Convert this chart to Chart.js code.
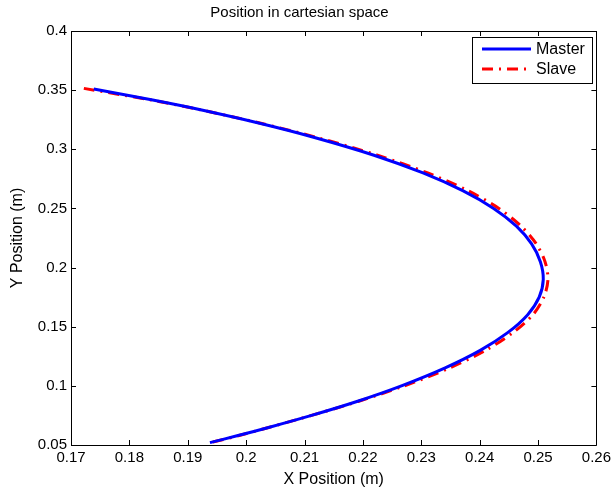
<!DOCTYPE html>
<html>
<head>
<meta charset="utf-8">
<script src="https://cdn.jsdelivr.net/npm/chart.js@4"></script>
<style>
  html, body { margin: 0; padding: 0; background: #fff; }
</style>
</head>
<body>
<canvas id="myChart" width="615" height="490"></canvas>
<script>
// data
const masterY = [0.052, 0.058, 0.065, 0.075, 0.087, 0.100, 0.115, 0.130, 0.145, 0.160, 0.175, 0.190,
                 0.205, 0.220, 0.235, 0.250, 0.265, 0.280, 0.295, 0.310, 0.322, 0.334, 0.3416, 0.351];
const masterX = [0.1938, 0.1986, 0.2040, 0.2112, 0.2191, 0.2266, 0.2340, 0.2401, 0.2448, 0.2482, 0.2502, 0.2509,
                 0.2504, 0.2489, 0.2463, 0.2424, 0.2371, 0.2303, 0.2219, 0.2117, 0.2023, 0.1916, 0.1840, 0.1739];
const slaveY = [0.0525, 0.058, 0.065, 0.075, 0.087, 0.100, 0.115, 0.130, 0.145, 0.160, 0.175, 0.190,
                0.205, 0.220, 0.235, 0.250, 0.265, 0.280, 0.295, 0.310, 0.322, 0.334, 0.3416, 0.3515];
const slaveX = [0.1943, 0.1988, 0.2040, 0.2112, 0.2193, 0.2271, 0.2348, 0.2410, 0.2457, 0.2491, 0.2510, 0.2517,
                0.2512, 0.2497, 0.2471, 0.2433, 0.2380, 0.2311, 0.2225, 0.2121, 0.2025, 0.1916, 0.1838, 0.1722];
const seriesNames = ['Master', 'Slave'];
const xRange = [0.17, 0.26];
const yRange = [0.05, 0.4];

const FONT = '"Liberation Sans", Arial, Helvetica, sans-serif';

function pts(xs, ys) {
  return xs.map((x, i) => ({ x: x, y: ys[i] }));
}

// MATLAB style box, inward ticks and legend
const matlabFrame = {
  id: 'matlabFrame',
  afterDraw(chart) {
    const ctx = chart.ctx;
    const a = chart.chartArea;
    const tl = 5;
    ctx.save();
    ctx.strokeStyle = '#000';
    ctx.lineWidth = 1;
    ctx.beginPath();
    ctx.rect(Math.round(a.left) + 0.5, Math.round(a.top) + 0.5,
             Math.round(a.right - a.left), Math.round(a.bottom - a.top));
    ctx.stroke();
    ctx.beginPath();
    chart.scales.x.ticks.forEach(t => {
      const px = Math.round(chart.scales.x.getPixelForValue(t.value)) + 0.5;
      ctx.moveTo(px, a.bottom); ctx.lineTo(px, a.bottom - tl);
      ctx.moveTo(px, a.top); ctx.lineTo(px, a.top + tl);
    });
    chart.scales.y.ticks.forEach(t => {
      const py = Math.round(chart.scales.y.getPixelForValue(t.value)) + 0.5;
      ctx.moveTo(a.left, py); ctx.lineTo(a.left + tl, py);
      ctx.moveTo(a.right, py); ctx.lineTo(a.right - tl, py);
    });
    ctx.stroke();

    // legend box
    const bx = 472.5, by = 37.5, bw = 120, bh = 46;
    ctx.fillStyle = '#fff';
    ctx.fillRect(bx, by, bw, bh);
    ctx.strokeRect(bx, by, bw, bh);
    ctx.font = '16px ' + FONT;
    ctx.textBaseline = 'middle';
    chart.data.datasets.forEach((ds, i) => {
      const ly = 49 + i * 20;
      ctx.beginPath();
      ctx.strokeStyle = ds.borderColor;
      ctx.lineWidth = ds.borderWidth;
      ctx.setLineDash(ds.borderDash || []);
      ctx.moveTo(482, ly); ctx.lineTo(531, ly);
      ctx.stroke();
      ctx.setLineDash([]);
      ctx.fillStyle = '#000';
      ctx.fillText(ds.label, 536, ly + 1);
    });
    ctx.restore();
  }
};

const config = {
  type: 'scatter',
  data: {
    datasets: [{
      label: seriesNames[0],
      data: pts(masterX, masterY),
      showLine: true,
      borderColor: '#0000ff',
      borderWidth: 3,
      pointRadius: 0,
      tension: 0.3
    }, {
      label: seriesNames[1],
      data: pts(slaveX, slaveY),
      showLine: true,
      borderColor: '#ff0000',
      borderWidth: 3,
      borderDash: [11, 6, 2, 6],
      pointRadius: 0,
      tension: 0.3
    }]
  },
  options: {
    responsive: false,
    animation: false,
    layout: { padding: { left: 0, right: 16, top: 0, bottom: 0 } },
    plugins: {
      legend: { display: false },
      tooltip: { enabled: false },
      title: {
        display: true,
        text: 'Position in cartesian space',
        color: '#000',
        font: { family: FONT, size: 15, weight: 'normal' },
        padding: { top: 4, bottom: 9 }
      }
    },
    scales: {
      x: {
        type: 'linear',
        min: xRange[0], max: xRange[1],
        grid: { display: false, drawTicks: false },
        border: { display: false },
        ticks: {
          stepSize: 0.01, padding: 4, color: '#000',
          font: { family: FONT, size: 15 },
          maxRotation: 0,
          callback: v => String(+v.toFixed(2))
        },
        title: {
          display: true, text: 'X Position (m)', color: '#000',
          font: { family: FONT, size: 16 },
          padding: { top: 0, bottom: 1 }
        },
        afterFit: s => { s.height = 45; }
      },
      y: {
        type: 'linear',
        min: yRange[0], max: yRange[1],
        grid: { display: false, drawTicks: false },
        border: { display: false },
        ticks: {
          stepSize: 0.05, padding: 4, color: '#000',
          font: { family: FONT, size: 15 },
          callback: v => String(+v.toFixed(2))
        },
        title: {
          display: true, text: 'Y Position (m)', color: '#000',
          font: { family: FONT, size: 16 },
          padding: { top: 8, bottom: 0 }
        },
        afterFit: s => { s.width = 71; }
      }
    }
  },
  plugins: [matlabFrame]
};

const myChart = new Chart(document.getElementById('myChart'), config);
</script>
</body>
</html>
